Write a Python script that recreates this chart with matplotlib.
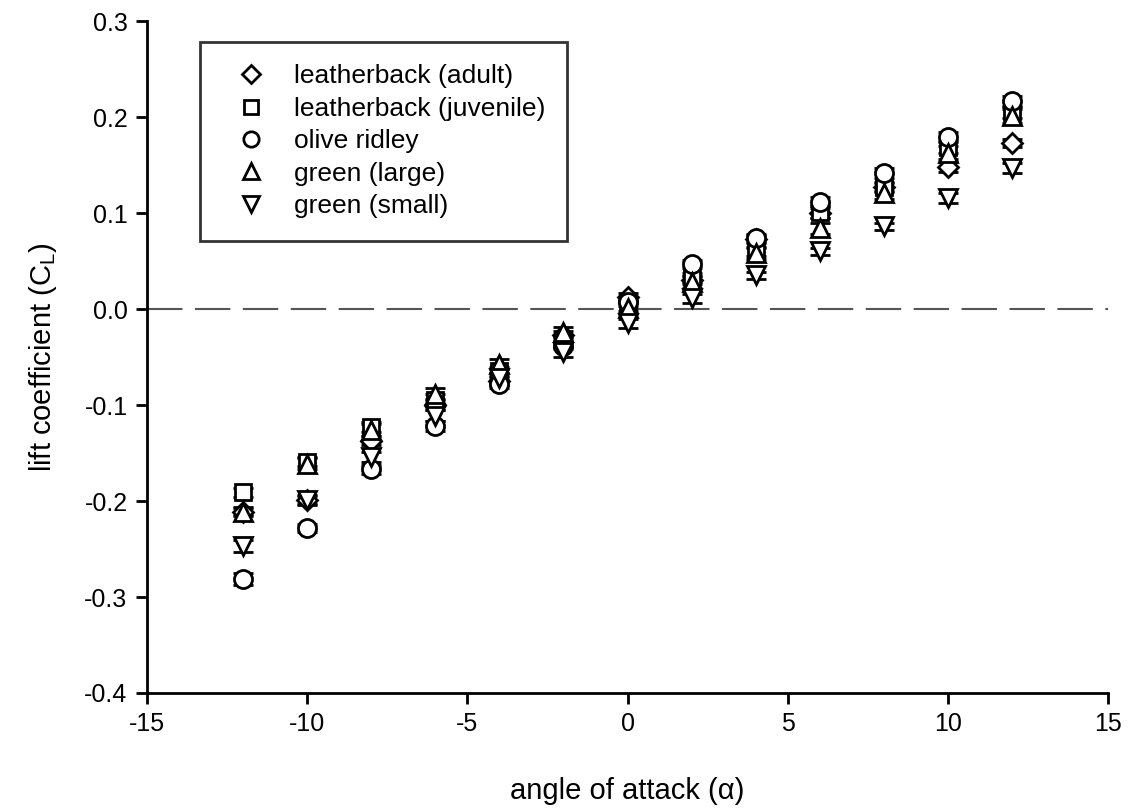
import numpy as np
import matplotlib.pyplot as plt

plt.rcParams['font.family'] = ['Liberation Sans', 'DejaVu Sans']
plt.rcParams['axes.unicode_minus'] = False

# angle of attack (deg)
alpha = [-12, -10, -8, -6, -4, -2, 0, 2, 4, 6, 8, 10, 12]

# lift coefficient per species
lb_adult = [-0.211, -0.199, -0.137, -0.100, -0.075, -0.027, 0.013, 0.030, 0.073, 0.100, 0.127, 0.148, 0.173]
lb_juv = [-0.191, -0.159, -0.123, -0.095, -0.065, -0.033, 0.003, 0.033, 0.060, 0.101, 0.127, 0.169, 0.205]
olive = [-0.281, -0.228, -0.167, -0.122, -0.078, -0.038, 0.007, 0.047, 0.074, 0.112, 0.142, 0.179, 0.217]
green_l = [-0.211, -0.161, -0.126, -0.088, -0.057, -0.024, 0.001, 0.028, 0.058, 0.084, 0.121, 0.163, 0.201]
green_s = [-0.247, -0.199, -0.154, -0.111, -0.072, -0.045, -0.015, 0.011, 0.035, 0.060, 0.086, 0.116, 0.147]

# small standard errors
err_adult = [0.004, 0.004, 0.005, 0.005, 0.004, 0.004, 0.004, 0.004, 0.004, 0.005, 0.004, 0.005, 0.004]
err_juv = [0.005, 0.005, 0.005, 0.006, 0.005, 0.005, 0.005, 0.005, 0.005, 0.006, 0.005, 0.006, 0.006]
err_olive = [0.006, 0.004, 0.005, 0.005, 0.004, 0.004, 0.004, 0.004, 0.004, 0.005, 0.005, 0.005, 0.005]
err_green_l = [0.005, 0.006, 0.006, 0.006, 0.005, 0.005, 0.005, 0.006, 0.006, 0.006, 0.006, 0.007, 0.007]
err_green_s = [0.006, 0.005, 0.005, 0.006, 0.005, 0.005, 0.005, 0.005, 0.004, 0.004, 0.004, 0.005, 0.005]

x_ticks = [-15, -10, -5, 0, 5, 10, 15]
y_ticks = [-0.4, -0.3, -0.2, -0.1, 0.0, 0.1, 0.2, 0.3]

series = [
    ('leatherback (adult)', lb_adult, err_adult, 'D', 10.5),
    ('leatherback (juvenile)', lb_juv, err_juv, 's', 11.5),
    ('olive ridley', olive, err_olive, 'o', 13),
    ('green (large)', green_l, err_green_l, '^', 13),
    ('green (small)', green_s, err_green_s, 'v', 13),
]

fig = plt.figure(figsize=(11.28, 8.11), dpi=100)
ax = fig.add_axes([0.1303, 0.1455, 0.852, 0.8285])

ax.axhline(0, color='#555555', lw=1.5, dashes=(17, 6), zorder=1)

for label, y, e, m, ms in series:
    ax.errorbar(alpha, y, yerr=e, fmt=m, ms=ms, mfc='white', mec='black', mew=2,
                ecolor='black', elinewidth=1.3, capsize=7.5, capthick=1.6,
                label=label, zorder=3)

ax.set_xlim(-15, 15)
ax.set_ylim(-0.4, 0.3)
ax.set_xticks(x_ticks)
ax.set_xticklabels([str(v) for v in x_ticks])
ax.set_yticks(y_ticks)
ax.set_yticklabels([f'{v:.1f}' for v in y_ticks])

for s in ['top', 'right']:
    ax.spines[s].set_visible(False)
for s in ['left', 'bottom']:
    ax.spines[s].set_linewidth(2)
ax.tick_params(direction='out', length=8, width=2, labelsize=18, pad=6)

ax.set_xlabel('angle of attack (α)', fontsize=21, labelpad=29)
ax.set_ylabel(r'lift coefficient (C$_\mathregular{L}$)', fontsize=21, labelpad=18)

handles, labels = ax.get_legend_handles_labels()
handles = [h[0] for h in handles]
leg = ax.legend(handles, labels, loc='upper left', bbox_to_anchor=(0.055, 0.969),
                prop={'size': 19}, frameon=True, fancybox=False, edgecolor='black',
                handletextpad=0.5, borderpad=0.85, labelspacing=0.32, markerscale=0.85,
                handlelength=2.2, borderaxespad=0)
leg.get_frame().set_linewidth(2)

plt.savefig('out.png', dpi=100)
